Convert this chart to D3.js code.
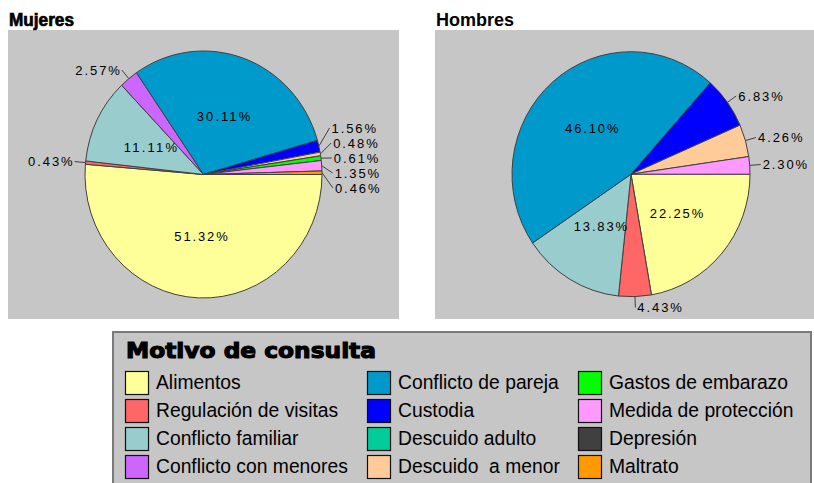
<!DOCTYPE html>
<html>
<head>
<meta charset="utf-8">
<script src="https://cdn.jsdelivr.net/npm/d3@7"></script>
<style>
  html, body { margin: 0; padding: 0; background: #ffffff; }
  svg { display: block; }
</style>
</head>
<body>
<svg id="chart" width="814" height="483"></svg>
<script>
// ---------------- DATA ----------------
const categories = [
  "Alimentos", "Regulación de visitas", "Conflicto familiar", "Conflicto con menores",
  "Conflicto de pareja", "Custodia", "Descuido adulto", "Descuido  a menor",
  "Gastos de embarazo", "Medida de protección", "Depresión", "Maltrato"
];
const colors = [
  "#ffff99", "#ff6666", "#99cccc", "#cc66ff",
  "#0099cc", "#0000ff", "#00cc99", "#ffcc99",
  "#00ff00", "#ff99ff", "#404040", "#ff9900"
];
const mujeresValues = [51.32, 0.43, 11.11, 2.57, 30.11, 1.56, 0, 0.48, 0.61, 1.35, 0, 0.46];
const hombresValues = [22.25, 4.43, 13.83, 0, 46.10, 6.83, 0, 4.26, 0, 2.30, 0, 0];
const panelTitles = ["Mujeres", "Hombres"];
const legendTitle = "Motivo de consulta";

// ---------------- LAYOUT ----------------
const svg = d3.select("#chart");
const panelBg = "#c6c6c6";
const strokeCol = "#404040";

const panels = [
  { title: panelTitles[0], values: mujeresValues, rect: [8, 30, 391, 289], titleX: 9, cx: 203.5, cy: 174.5, rx: 118.5, ry: 123.5, heavy: true },
  { title: panelTitles[1], values: hombresValues, rect: [435, 30, 379, 289], titleX: 436, cx: 631, cy: 174.2, rx: 119, ry: 122.5, heavy: false }
];

const pie = d3.pie().sort(null).value(d => d.v)
  .startAngle(Math.PI / 2).endAngle(Math.PI / 2 + 2 * Math.PI);

function fmt(v) { return d3.format(".2f")(v) + "%"; }

panels.forEach(p => {
  const g = svg.append("g");
  g.append("rect")
    .attr("x", p.rect[0]).attr("y", p.rect[1])
    .attr("width", p.rect[2]).attr("height", p.rect[3])
    .attr("fill", panelBg);

  g.append("text")
    .attr("x", p.titleX).attr("y", 26)
    .attr("font-family", "'Liberation Sans', Arial, sans-serif")
    .attr("font-weight", "bold")
    .attr("font-size", 18)
    .attr("fill", "#000")
    .attr("stroke", p.heavy ? "#000" : "none")
    .attr("stroke-width", p.heavy ? 0.7 : 0)
    .attr("textLength", p.heavy ? 65 : 78)
    .attr("lengthAdjust", "spacingAndGlyphs")
    .text(p.title);

  const data = p.values.map((v, i) => ({ v, i })).filter(d => d.v > 0);
  const arcs = pie(data);

  const arc = d3.arc().innerRadius(0).outerRadius(p.rx);
  const pg = g.append("g")
    .attr("transform", `translate(${p.cx},${p.cy}) scale(1,${p.ry / p.rx})`);
  pg.selectAll("path").data(arcs).join("path")
    .attr("d", arc)
    .attr("fill", d => colors[d.data.i])
    .attr("stroke", strokeCol)
    .attr("stroke-width", 1)
    .attr("vector-effect", "non-scaling-stroke");

  const pos = (theta, k) => [p.cx + k * p.rx * Math.sin(theta), p.cy - k * p.ry * Math.cos(theta)];

  const inner = arcs.filter(d => d.data.v >= 10);
  const outer = arcs.filter(d => d.data.v < 10);

  const labelText = (sel, t) => sel
    .attr("font-family", "'Liberation Sans', Arial, sans-serif")
    .attr("font-size", 13)
    .attr("fill", "#000")
    .attr("textLength", 8.9 * t.length)
    .attr("lengthAdjust", "spacing")
    .text(t);

  inner.forEach(d => {
    const m = (d.startAngle + d.endAngle) / 2;
    const [x, y] = pos(m, 0.5);
    const t = fmt(d.data.v);
    g.append("text")
      .attr("x", x).attr("y", y).attr("dy", "0.36em")
      .attr("text-anchor", "middle")
      .call(labelText, t);
  });

  // outer labels with leader lines and collision relaxation
  const items = outer.map(d => {
    const m = (d.startAngle + d.endAngle) / 2;
    const s = Math.sin(m), c = -Math.cos(m);
    const P = [p.cx + p.rx * s, p.cy + p.ry * c];
    const E = [P[0] + 11 * s, P[1] + 11 * c];
    return { d, P, E, right: s >= 0, want: E[1], y: E[1] };
  });
  const gap = 15;
  [true, false].forEach(side => {
    const list = items.filter(it => it.right === side).sort((a, b) => a.want - b.want);
    let clusters = list.map(it => ({ items: [it], y0: it.want }));
    const place = cl => {
      const mean = d3.mean(cl.items, it => it.want);
      cl.y0 = mean - gap * (cl.items.length - 1) / 2;
    };
    clusters.forEach(place);
    let changed = true;
    while (changed) {
      changed = false;
      for (let k = 0; k < clusters.length - 1; k++) {
        const a = clusters[k], b = clusters[k + 1];
        const aEnd = a.y0 + gap * (a.items.length - 1);
        if (b.y0 - aEnd < gap) {
          a.items = a.items.concat(b.items);
          place(a);
          clusters.splice(k + 1, 1);
          changed = true;
          break;
        }
      }
    }
    clusters.forEach(cl => cl.items.forEach((it, j) => { it.y = cl.y0 + j * gap; }));
  });

  items.forEach(it => {
    const endX = it.E[0];
    g.append("polyline")
      .attr("points", [it.P, [endX, it.y]].map(q => q.join(",")).join(" "))
      .attr("fill", "none")
      .attr("stroke", strokeCol)
      .attr("stroke-width", 1);
    const t = fmt(it.d.data.v);
    g.append("text")
      .attr("x", it.right ? endX + 2 : endX - 2)
      .attr("y", it.y).attr("dy", "0.36em")
      .attr("text-anchor", it.right ? "start" : "end")
      .call(labelText, t);
  });
});

// ---------------- LEGEND ----------------
const lg = svg.append("g");
lg.append("rect")
  .attr("x", 113).attr("y", 332).attr("width", 698).attr("height", 170)
  .attr("fill", panelBg)
  .attr("stroke", "#7a7a7a").attr("stroke-width", 2);

lg.append("text")
  .attr("x", 126).attr("y", 358)
  .attr("font-family", "'DejaVu Sans', sans-serif")
  .attr("font-weight", "bold")
  .attr("font-size", 21)
  .attr("fill", "#000")
  .attr("stroke", "#000").attr("stroke-width", 1.1)
  .attr("textLength", 250)
  .attr("lengthAdjust", "spacingAndGlyphs")
  .text(legendTitle);

const colSwatchX = [125, 367, 578];
const rowY = d3.scaleLinear().domain([0, 1]).range([371, 399]);
const items = lg.selectAll("g.item").data(categories.map((c, i) => ({ c, i })))
  .join("g").attr("class", "item")
  .attr("transform", d => `translate(${colSwatchX[Math.floor(d.i / 4)]},${rowY(d.i % 4)})`);
items.append("rect")
  .attr("x", 0.5).attr("y", 0.5).attr("width", 23).attr("height", 23)
  .attr("fill", d => colors[d.i])
  .attr("stroke", "#111").attr("stroke-width", 1.2);
items.append("text")
  .attr("x", 31).attr("y", 18)
  .attr("font-family", "'Liberation Sans', Arial, sans-serif")
  .attr("font-size", 19.3)
  .attr("fill", "#000")
  .style("white-space", "pre")
  .attr("xml:space", "preserve")
  .text(d => d.c);
</script>
</body>
</html>
